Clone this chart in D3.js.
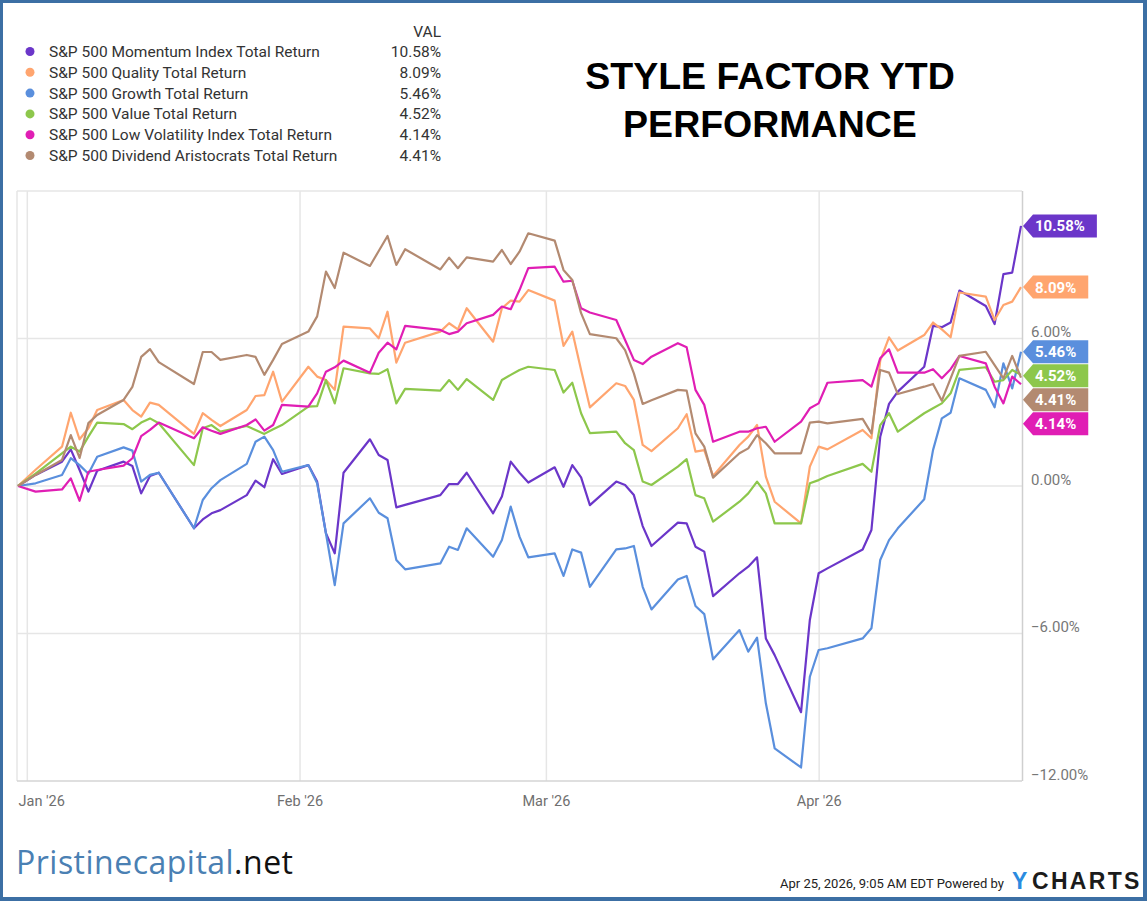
<!DOCTYPE html>
<html>
<head>
<meta charset="utf-8">
<script src="https://cdn.jsdelivr.net/npm/d3@7"></script>
<style>
    body { margin: 0; background: #fff; }
    svg text { font-family: Roboto, "Liberation Sans", sans-serif; }
</style>
</head>
<body>
<svg id="chart" width="1147" height="901"></svg>
<script>
// trading days, Dec 31 2025 .. Apr 24 2026
const dates = [
    "2025-12-31", "2026-01-02",
    "2026-01-05", "2026-01-06", "2026-01-07", "2026-01-08", "2026-01-09",
    "2026-01-12", "2026-01-13", "2026-01-14", "2026-01-15", "2026-01-16",
    "2026-01-20", "2026-01-21", "2026-01-22", "2026-01-23",
    "2026-01-26", "2026-01-27", "2026-01-28", "2026-01-29", "2026-01-30",
    "2026-02-02", "2026-02-03", "2026-02-04", "2026-02-05", "2026-02-06",
    "2026-02-09", "2026-02-10", "2026-02-11", "2026-02-12", "2026-02-13",
    "2026-02-17", "2026-02-18", "2026-02-19", "2026-02-20",
    "2026-02-23", "2026-02-24", "2026-02-25", "2026-02-26", "2026-02-27",
    "2026-03-02", "2026-03-03", "2026-03-04", "2026-03-05", "2026-03-06",
    "2026-03-09", "2026-03-10", "2026-03-11", "2026-03-12", "2026-03-13",
    "2026-03-16", "2026-03-17", "2026-03-18", "2026-03-19", "2026-03-20",
    "2026-03-23", "2026-03-24", "2026-03-25", "2026-03-26", "2026-03-27",
    "2026-03-30", "2026-03-31", "2026-04-01", "2026-04-02",
    "2026-04-06", "2026-04-07", "2026-04-08", "2026-04-09", "2026-04-10",
    "2026-04-13", "2026-04-14", "2026-04-15", "2026-04-16", "2026-04-17",
    "2026-04-20", "2026-04-21", "2026-04-22", "2026-04-23", "2026-04-24"
];

const momentum = [
    0, 0.45, 0.99, 1.49, 0.65, -0.23, 0.62, 0.99, 0.81, -0.30, 0.41, 0.54, -1.72, -1.36, -1.11, -0.98, -0.37, 0.22, -0.05, 1.09, 0.49,
    0.85, 0.18, -1.92, -2.74, 0.54, 1.90, 1.26, 1.06, -0.87, -0.77, -0.37, 0.08, 0.08, 0.54, -1.11, -0.43, 0.99, 0.54, 0.14,
    0.76, -0.03, 0.85, 0.35, -0.78, 0.18, 0.04, -0.37, -1.63, -2.44, -1.49, -1.52, -2.47, -2.67, -4.48, -3.55, -3.28, -2.90, -6.20, -6.88, -9.20, -5.45,
    -3.55, -3.35, -2.58, -1.79, 2.00, 3.34, 3.84, 4.85, 6.51, 6.46, 6.65, 7.95, 7.32, 6.59, 8.62, 8.68, 10.58
];
const quality = [
    0, 0.66, 1.60, 2.98, 1.90, 2.35, 3.09, 3.50, 3.09, 2.82, 3.39, 3.30, 2.12, 2.96, 2.69, 2.44, 3.09, 3.66, 3.70, 4.65, 3.43,
    4.85, 4.45, 4.31, 3.91, 6.48, 6.41, 6.01, 7.09, 5.02, 5.83, 6.28, 6.62, 6.37, 7.23, 5.87, 7.23, 7.54, 7.50, 7.97,
    7.54, 5.70, 6.28, 4.72, 3.20, 4.18, 4.07, 3.50, 1.67, 1.42, 2.35, 2.92, 1.40, 1.46, 0.41, 1.67, 2.01, 2.48, 0.38, -0.64, -1.52, 0.79,
    1.60, 1.49, 2.28, 1.94, 5.10, 6.05, 5.51, 6.14, 6.65, 6.37, 6.05, 7.87, 7.70, 6.75, 7.36, 7.50, 8.09
];
const growth = [
    0, 0.11, 0.45, 1.13, 0.85, 0.50, 1.19, 1.57, 1.44, 0.18, 0.45, 0.54, -1.72, -0.57, -0.09, 0.24, 0.90, 1.80, 2.01, 1.46, 0.58,
    0.85, 0.11, -1.92, -4.03, -1.52, -0.50, -1.09, -1.31, -3.01, -3.39, -3.15, -2.47, -2.60, -1.72, -2.88, -2.20, -0.84, -2.06, -2.90,
    -2.74, -3.66, -2.58, -2.71, -4.10, -2.58, -2.54, -2.44, -4.10, -5.02, -3.80, -3.66, -4.88, -5.21, -7.05, -5.86, -6.74, -6.17, -8.84, -10.67, -11.45, -7.76,
    -6.67, -6.60, -6.20, -5.79, -3.01, -2.20, -1.72, -0.54, 1.46, 2.75, 2.98, 4.38, 3.91, 3.20, 4.99, 3.97, 5.46
];
const value = [
    0, 0.50, 1.33, 1.60, 1.40, 2.01, 2.58, 2.52, 2.31, 2.58, 2.75, 2.55, 0.85, 2.35, 2.48, 2.21, 2.44, 2.28, 2.12, 2.31, 2.48,
    3.23, 3.25, 4.31, 3.36, 4.79, 4.58, 4.56, 4.75, 3.36, 3.95, 3.88, 4.31, 3.91, 4.35, 3.50, 4.31, 4.52, 4.72, 4.85,
    4.72, 3.80, 4.20, 2.96, 2.15, 2.21, 1.74, 1.46, 0.18, 0.04, 0.79, 1.09, -0.37, -0.50, -1.45, -0.64, -0.30, 0.18, -0.30, -1.52, -1.52, 0.11,
    0.24, 0.41, 0.90, 0.58, 2.48, 2.96, 2.21, 2.96, 3.16, 3.36, 3.77, 4.72, 4.83, 4.24, 4.31, 4.72, 4.52
];
const lowVol = [
    0, -0.23, -0.14, 0.31, -0.60, 0.58, 0.65, 0.83, 1.13, 2.03, 2.28, 2.58, 1.94, 2.39, 2.25, 2.12, 2.48, 2.71, 2.25, 2.48, 3.30,
    3.23, 3.77, 4.65, 4.83, 5.10, 4.61, 5.42, 5.83, 5.56, 6.51, 6.35, 6.18, 6.28, 6.62, 6.96, 7.30, 7.19, 7.97, 8.86,
    8.92, 8.31, 8.35, 7.23, 7.06, 6.75, 5.94, 5.13, 4.96, 5.26, 5.81, 5.64, 3.91, 3.30, 1.80, 2.21, 2.21, 2.35, 2.41, 1.80, 2.62, 3.16,
    3.36, 4.20, 4.31, 4.04, 5.20, 5.56, 4.61, 4.61, 4.75, 4.38, 4.75, 5.29, 4.99, 4.04, 3.36, 4.45, 4.14
];
const aristocrats = [
    0, 0.45, 1.06, 2.07, 1.14, 2.56, 2.89, 3.50, 4.03, 5.25, 5.57, 5.04, 4.15, 5.45, 5.45, 5.13, 5.33, 5.25, 4.52, 5.13, 5.78,
    6.28, 6.90, 8.72, 8.05, 9.49, 8.95, 9.56, 10.17, 8.99, 9.63, 8.81, 9.29, 8.86, 9.30, 9.13, 9.60, 9.03, 9.53, 10.28,
    9.98, 8.79, 8.38, 7.03, 6.18, 6.01, 5.53, 4.58, 3.34, 3.49, 3.91, 3.88, 2.14, 1.60, 0.34, 1.33, 1.53, 2.07, 1.74, 1.33, 1.33, 2.58,
    2.62, 2.55, 2.73, 2.14, 4.72, 4.61, 3.74, 4.04, 4.15, 3.47, 4.38, 5.29, 5.46, 4.92, 4.38, 5.29, 4.41
];

const seriesNames = [
    "S&P 500 Momentum Index Total Return",
    "S&P 500 Quality Total Return",
    "S&P 500 Growth Total Return",
    "S&P 500 Value Total Return",
    "S&P 500 Low Volatility Index Total Return",
    "S&P 500 Dividend Aristocrats Total Return"
];
const seriesValues = [momentum, quality, growth, value, lowVol, aristocrats];
const seriesColors = ["#6b36c9", "#ffa56f", "#5a8fdd", "#8dc74c", "#e01eb4", "#b38a71"];

const yTicks = [-12, -6, 0, 6];
const monthTicks = ["2026-01-01", "2026-02-01", "2026-03-01", "2026-04-01"];

const parse = d3.utcParse("%Y-%m-%d");
const pct = d3.format(".2f");

const svg = d3.select("#chart");
const W = 1147, H = 901;
const plot = { l: 17, r: 1022, t: 191, b: 781 };

const series = seriesNames.map((name, i) => ({
    name: name,
    color: seriesColors[i],
    values: seriesValues[i].map((v, j) => ({ date: parse(dates[j]), v: v })),
    last: seriesValues[i][seriesValues[i].length - 1]
}));

const x = d3.scaleUtc()
    .domain([parse(dates[0]), parse(dates[dates.length - 1])])
    .range([18, 1021]);

const y = d3.scaleLinear()
    .domain([-12, 12])
    .range([plot.b, plot.t]);

// grid + axes
const gridY = svg.append("g").attr("class", "grid-y");
gridY.selectAll("line")
    .data([12, 6, 0, -6])
    .join("line")
    .attr("x1", plot.l).attr("x2", plot.r)
    .attr("y1", d => y(d)).attr("y2", d => y(d))
    .attr("stroke", "#e6e6e6").attr("stroke-width", 1.5);

svg.append("line")
    .attr("x1", plot.l).attr("x2", plot.l)
    .attr("y1", plot.t).attr("y2", plot.b)
    .attr("stroke", "#e6e6e6").attr("stroke-width", 1.5);

const axisX = d3.axisBottom(x)
    .tickValues(monthTicks.map(parse))
    .tickSize(-(plot.b - plot.t))
    .tickPadding(0)
    .tickFormat(d3.utcFormat("%b '%y"));

const gx = svg.append("g")
    .attr("class", "axis axis-x")
    .attr("transform", `translate(0, ${plot.b})`)
    .call(axisX);
gx.select(".domain").remove();
gx.selectAll(".tick line").attr("stroke", "#e6e6e6").attr("stroke-width", 1.5);
gx.selectAll(".tick text")
    .attr("y", 15)
    .attr("fill", "#6f6f6f")
    .style("font-size", "14.5px");
gx.selectAll(".tick text")
    .filter((d, i) => i === 0)
    .attr("text-anchor", "start")
    .attr("x", x(parse(dates[0])) - x(parse(monthTicks[0])));

svg.append("line")
    .attr("x1", plot.l).attr("x2", plot.r)
    .attr("y1", plot.b).attr("y2", plot.b)
    .attr("stroke", "#d4d4d4").attr("stroke-width", 1.5);
svg.append("line")
    .attr("x1", plot.r + 0.5).attr("x2", plot.r + 0.5)
    .attr("y1", plot.t).attr("y2", plot.b)
    .attr("stroke", "#cfcfcf").attr("stroke-width", 1.5);

const axisY = d3.axisRight(y)
    .tickValues(yTicks)
    .tickSize(0)
    .tickPadding(9)
    .tickFormat(d => pct(d) + "%");

const gy = svg.append("g")
    .attr("class", "axis axis-y")
    .attr("transform", `translate(${plot.r}, 0)`)
    .call(axisY);
gy.select(".domain").remove();
gy.selectAll(".tick text")
    .attr("dy", "-2px")
    .attr("fill", "#777")
    .style("font-size", "15px");

// lines
const line = d3.line()
    .x(d => x(d.date))
    .y(d => y(d.v));

svg.append("g")
    .attr("class", "lines")
    .selectAll("path")
    .data(series)
    .join("path")
    .attr("d", d => line(d.values))
    .attr("fill", "none")
    .attr("stroke", d => d.color)
    .attr("stroke-width", 2.2)
    .attr("stroke-linejoin", "round");

// end-of-line flags, pushed apart so they don't overlap
const flags = series.slice().sort((a, b) => b.last - a.last);
let prevY = -Infinity;
flags.forEach(f => {
    f.fy = Math.max(y(f.last), prevY + 24);
    prevY = f.fy;
});

const flagG = svg.append("g")
    .attr("class", "flags")
    .selectAll("g")
    .data(flags)
    .join("g")
    .attr("transform", d => `translate(${plot.r + 1}, ${d.fy})`);

flagG.append("text")
    .attr("x", 12)
    .attr("dy", "0.36em")
    .attr("fill", "#fff")
    .style("font-size", "15px")
    .style("font-weight", "bold")
    .text(d => pct(d.last) + "%");

flagG.insert("path", "text")
    .attr("fill", d => d.color)
    .attr("d", function(d) {
        const w = this.parentNode.querySelector("text").getComputedTextLength() + 24;
        const h = 11.5;
        return `M0,0L10,${-h}L${w},${-h}L${w},${h}L10,${h}Z`;
    });

// legend
const legend = svg.append("g").attr("class", "legend");
legend.append("text")
    .attr("x", 441).attr("y", 37)
    .attr("text-anchor", "end")
    .attr("fill", "#333")
    .style("font-size", "15.5px")
    .text("VAL");

const rows = legend.selectAll(".row")
    .data(series)
    .join("g")
    .attr("class", "row")
    .attr("transform", (d, i) => `translate(0, ${51.5 + i * 20.8})`);

rows.append("circle")
    .attr("cx", 30).attr("cy", 0).attr("r", 4.5)
    .attr("fill", d => d.color);
rows.append("text")
    .attr("x", 49).attr("dy", "0.36em")
    .attr("fill", "#333")
    .style("font-size", "15.5px")
    .text(d => d.name);
rows.append("text")
    .attr("x", 441).attr("dy", "0.36em")
    .attr("text-anchor", "end")
    .attr("fill", "#333")
    .style("font-size", "15.5px")
    .text(d => pct(d.last) + "%");

// title
const title = svg.append("text")
    .attr("text-anchor", "middle")
    .attr("fill", "#000")
    .style("font-family", "'Liberation Sans', Arial, sans-serif")
    .style("font-weight", "bold")
    .style("font-size", "37.5px");
title.append("tspan").attr("x", 770).attr("y", 89).text("STYLE FACTOR YTD");
title.append("tspan").attr("x", 770).attr("y", 137).text("PERFORMANCE");

// footer
const brand = svg.append("text")
    .attr("x", 16).attr("y", 874)
    .attr("textLength", 277)
    .attr("lengthAdjust", "spacing")
    .style("font-family", "'Open Sans', sans-serif")
    .style("font-size", "32px");
brand.append("tspan").attr("fill", "#4a80b3").text("Pristinecapital");
brand.append("tspan").attr("fill", "#111").text(".net");

// stamp: size the font so it ends just before the logo
const stamp = svg.append("text")
    .attr("x", 780).attr("y", 888)
    .attr("fill", "#222")
    .style("font-size", "15px")
    .text("Apr 25, 2026, 9:05 AM EDT Powered by");
const stampLen = stamp.node().getComputedTextLength();
stamp.style("font-size", (15 * 224 / stampLen).toFixed(2) + "px");

svg.append("text")
    .attr("x", 1012).attr("y", 889)
    .attr("fill", "#2a8be0")
    .style("font-family", "'Liberation Sans', Arial, sans-serif")
    .style("font-weight", "bold")
    .style("font-size", "23px")
    .text("Y");
svg.append("text")
    .attr("x", 1032).attr("y", 889)
    .attr("fill", "#1b1b1b")
    .style("font-family", "'Liberation Sans', Arial, sans-serif")
    .style("font-weight", "bold")
    .style("font-size", "23px")
    .style("letter-spacing", "2.3px")
    .text("CHARTS");

// outer frame
const frame = "#3c6fa4";
svg.append("rect").attr("x", 0).attr("y", 0).attr("width", W).attr("height", 3).attr("fill", frame);
svg.append("rect").attr("x", 0).attr("y", 0).attr("width", 3).attr("height", H).attr("fill", frame);
svg.append("rect").attr("x", 0).attr("y", H - 4).attr("width", W).attr("height", 4).attr("fill", frame);
svg.append("rect").attr("x", W - 4).attr("y", 0).attr("width", 4).attr("height", H).attr("fill", frame);
</script>
</body>
</html>
